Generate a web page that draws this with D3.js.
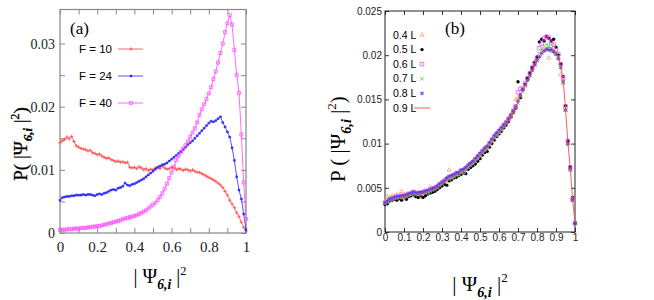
<!DOCTYPE html>
<html>
<head>
<meta charset="utf-8">
<script src="https://cdn.jsdelivr.net/npm/d3@7"></script>
<style>
  body { margin: 0; background: #fff; }
</style>
</head>
<body>
<script>
    var width = 654,
        height = 300;

    var SERIF = "'Liberation Serif', 'Times New Roman', serif",
        SANS = "'Liberation Sans', Arial, sans-serif";

    // shared x bins (step 0.0125)
    var xBins = d3.range(81).map(function(i) { return i * 0.0125; });

    // panel (a): F = 10, 24, 40
    var f10 = [
      .0143,.0146,.0148,.0152,.0149,.0153,.0145,.0138,.0136,.0134,
      .0133,.0132,.0130,.0131,.0127,.0126,.0124,.0125,.0122,.0120,
      .0118,.0119,.0116,.0115,.0113,.0114,.0112,.0113,.0111,.0112,
      .0104,.0103,.0104,.0102,.0105,.0103,.0100,.0102,.0099,.0101,
      .0100,.0103,.0104,.0102,.0106,.0103,.0101,.0102,.0104,.0103,
      .0100,.0102,.0101,.0099,.0101,.0100,.0098,.0100,.0098,.0096,
      .0096,.0094,.0092,.0090,.0088,.0086,.0084,.0082,.0079,.0076,
      .0072,.0066,.0060,.0052,.0046,.0040,.0032,.0026,.0017,.0009,
      .0002];
    var f24 = [
      .0052,.0056,.0057,.0058,.0058,.0059,.0059,.0060,.0060,.0060,
      .0061,.0060,.0061,.0061,.0060,.0059,.0061,.0062,.0061,.0063,
      .0064,.0066,.0068,.0069,.0068,.0071,.0072,.0074,.0079,.0076,
      .0075,.0077,.0078,.0080,.0082,.0084,.0086,.0089,.0092,.0095,
      .0098,.0101,.0104,.0106,.0108,.0109,.0111,.0114,.0117,.0120,
      .0123,.0126,.0129,.0132,.0136,.0140,.0143,.0146,.0150,.0154,
      .0158,.0162,.0166,.0170,.0174,.0177,.0176,.0178,.0181,.0184,
      .0175,.0168,.0160,.0152,.0135,.0115,.0089,.0068,.0054,.0030,
      .0005];
    var f40 = [
      .0005,.0005,.0005,.0006,.0006,.0006,.0007,.0007,.0007,.0008,
      .0008,.0008,.0009,.0009,.0010,.0010,.0011,.0011,.0012,.0013,
      .0014,.0015,.0016,.0017,.0018,.0019,.0020,.0022,.0023,.0024,
      .0025,.0026,.0027,.0028,.0030,.0032,.0034,.0036,.0039,.0042,
      .0045,.0048,.0052,.0057,.0063,.0070,.0078,.0087,.0096,.0105,
      .0115,.0122,.0128,.0134,.0139,.0145,.0152,.0159,.0166,.0175,
      .0187,.0196,.0204,.0212,.0221,.0231,.0244,.0256,.0270,.0285,
      .0300,.0318,.0332,.0345,.0330,.0290,.0250,.0222,.0156,.0080,
      .0022];

    // panel (b): 0.4 L ... 0.9 L
    var l04 = [
      .0035,.0040,.0039,.0041,.0040,.0042,.0041,.0046,.0041,.0043,
      .0043,.0045,.0046,.0044,.0045,.0044,.0045,.0047,.0046,.0051,
      .0049,.0050,.0052,.0054,.0056,.0058,.0060,.0070,.0063,.0064,
      .0066,.0068,.0069,.0070,.0072,.0075,.0077,.0079,.0082,.0085,
      .0088,.0091,.0092,.0097,.0100,.0104,.0108,.0111,.0114,.0117,
      .0121,.0124,.0128,.0132,.0137,.0150,.0152,.0153,.0161,.0166,
      .0173,.0179,.0185,.0191,.0196,.0200,.0204,.0205,.0206,.0197,
      .0205,.0204,.0201,.0197,.0178,.0168,.0138,.0100,.0070,.0036,
      .0010];
    var l05 = [
      .0031,.0032,.0035,.0036,.0037,.0036,.0038,.0036,.0039,.0037,
      .0040,.0041,.0042,.0040,.0039,.0041,.0039,.0041,.0043,.0044,
      .0045,.0046,.0048,.0050,.0052,.0054,.0053,.0058,.0059,.0061,
      .0062,.0064,.0065,.0067,.0066,.0071,.0073,.0075,.0077,.0080,
      .0083,.0087,.0090,.0091,.0096,.0100,.0104,.0108,.0111,.0114,
      .0118,.0121,.0125,.0130,.0135,.0140,.0170,.0152,.0161,.0167,
      .0174,.0180,.0186,.0192,.0198,.0215,.0218,.0216,.0221,.0219,
      .0216,.0218,.0209,.0200,.0190,.0176,.0143,.0103,.0074,.0039,
      .0010];
    var l06 = [
      .0033,.0035,.0037,.0038,.0039,.0040,.0040,.0041,.0040,.0042,
      .0043,.0043,.0045,.0044,.0044,.0043,.0045,.0046,.0045,.0048,
      .0049,.0050,.0051,.0054,.0056,.0058,.0060,.0062,.0062,.0064,
      .0066,.0066,.0069,.0068,.0072,.0074,.0077,.0079,.0082,.0085,
      .0088,.0091,.0094,.0096,.0100,.0104,.0108,.0111,.0114,.0117,
      .0121,.0124,.0128,.0132,.0137,.0142,.0158,.0162,.0162,.0168,
      .0174,.0180,.0186,.0191,.0197,.0208,.0213,.0219,.0221,.0220,
      .0214,.0212,.0206,.0201,.0190,.0174,.0142,.0103,.0073,.0037,
      .0010];
    var l07 = [
      .0032,.0034,.0036,.0037,.0038,.0038,.0039,.0040,.0039,.0041,
      .0041,.0042,.0043,.0043,.0042,.0043,.0044,.0044,.0045,.0046,
      .0047,.0048,.0050,.0052,.0054,.0056,.0058,.0060,.0061,.0062,
      .0064,.0065,.0067,.0068,.0070,.0073,.0075,.0077,.0080,.0083,
      .0086,.0089,.0092,.0094,.0098,.0102,.0106,.0109,.0112,.0115,
      .0119,.0122,.0126,.0130,.0135,.0140,.0146,.0153,.0159,.0165,
      .0171,.0177,.0183,.0189,.0194,.0202,.0207,.0210,.0212,.0211,
      .0208,.0210,.0204,.0198,.0186,.0170,.0138,.0099,.0071,.0036,
      .0010];
    var l08 = [
      .0033,.0035,.0037,.0038,.0039,.0040,.0040,.0041,.0041,.0042,
      .0043,.0044,.0045,.0044,.0044,.0045,.0045,.0046,.0047,.0048,
      .0049,.0050,.0052,.0054,.0056,.0058,.0061,.0063,.0064,.0065,
      .0067,.0067,.0070,.0071,.0073,.0076,.0078,.0080,.0083,.0086,
      .0089,.0092,.0095,.0097,.0101,.0105,.0109,.0112,.0115,.0118,
      .0121,.0124,.0128,.0132,.0137,.0142,.0148,.0155,.0161,.0167,
      .0172,.0177,.0183,.0189,.0194,.0198,.0202,.0205,.0207,.0206,
      .0206,.0204,.0201,.0196,.0186,.0170,.0138,.0100,.0071,.0036,
      .0010];
    var l09 = [
      .0032,.0034,.0036,.0037,.0038,.0039,.0039,.0040,.0040,.0041,
      .0042,.0043,.0044,.0043,.0043,.0044,.0044,.0045,.0046,.0047,
      .0048,.0049,.0051,.0053,.0055,.0057,.0059,.0061,.0062,.0063,
      .0065,.0066,.0068,.0069,.0071,.0074,.0076,.0078,.0081,.0084,
      .0087,.0090,.0093,.0095,.0099,.0103,.0107,.0110,.0113,.0116,
      .0120,.0123,.0127,.0131,.0136,.0141,.0147,.0154,.0160,.0166,
      .0172,.0178,.0184,.0190,.0195,.0199,.0203,.0206,.0208,.0209,
      .0208,.0206,.0203,.0199,.0188,.0172,.0140,.0101,.0072,.0037,
      .0010];

    var xTicksA = d3.range(11).map(function(i) { return i / 10; }),
        yTicksA = [0, .005, .01, .015, .02, .025, .03],
        xTicksB = d3.range(11).map(function(i) { return i / 10; }),
        yTicksB = [0, .005, .01, .015, .02, .025];

    var seriesA = [
      { name: "F = 10", values: f10, color: "#ff4545", sym: d3.symbolPlus || d3.symbolCross, size: 5, fill: false },
      { name: "F = 24", values: f24, color: "#2a2aff", sym: d3.symbolSquare, size: 4, fill: true },
      { name: "F = 40", values: f40, color: "#ff44ff", sym: d3.symbolSquare2 || d3.symbolSquare, size: 12, fill: false }
    ];

    var seriesB = [
      { name: "0.4 L", values: l04, color: "#f6a07a", sym: d3.symbolTriangle2 || d3.symbolTriangle, size: 12, fill: false },
      { name: "0.5 L", values: l05, color: "#000000", sym: d3.symbolCircle, size: 9, fill: true },
      { name: "0.6 L", values: l06, color: "#ff4cff", sym: d3.symbolSquare2 || d3.symbolSquare, size: 16, fill: false },
      { name: "0.7 L", values: l07, color: "#44e044", sym: d3.symbolTimes || d3.symbolCross, size: 11, fill: false },
      { name: "0.8 L", values: l08, color: "#3535ff", sym: d3.symbolAsterisk || d3.symbolStar, size: 11, fill: false },
      { name: "0.9 L", values: l09, color: "#ff4a4a", line: true }
    ];

    var svg = d3.select("body").append("svg")
      .attr("width", width)
      .attr("height", height);

    var fmt = function(d) { return String(+d.toFixed(3)); };

    // ---------- panel (a) ----------
    var xA = d3.scaleLinear().domain([0, 1]).range([60, 246]),
        yA = d3.scaleLinear().domain([0, 0.0354]).range([233, 9.5]);

    var gA = svg.append("g");

    gA.append("g")
      .attr("transform", "translate(0," + yA(0) + ")")
      .call(d3.axisBottom(xA).tickValues(xTicksA).tickSize(-5).tickPadding(8)
        .tickFormat(function(d) { return Math.round(d * 10) % 2 === 0 ? fmt(d) : ""; }))
      .selectAll(".tick text").attr("font-size", 15);
    gA.append("g")
      .attr("transform", "translate(0," + yA.range()[1] + ")")
      .call(d3.axisTop(xA).tickValues(xTicksA).tickSize(-5).tickFormat(""));
    gA.append("g")
      .attr("transform", "translate(" + xA(0) + ",0)")
      .call(d3.axisLeft(yA).tickValues(yTicksA).tickSize(-5).tickPadding(5)
        .tickFormat(function(d) { return Math.round(d * 1000) % 10 === 0 ? fmt(d) : ""; }))
      .selectAll(".tick text").attr("font-size", 14);
    gA.append("g")
      .attr("transform", "translate(" + xA(1) + ",0)")
      .call(d3.axisRight(yA).tickValues(yTicksA).tickSize(-5).tickFormat(""));

    gA.selectAll(".domain").remove();
    gA.selectAll(".tick line").attr("stroke", "#888");
    gA.selectAll(".tick text")
      .attr("font-family", SERIF)
      .attr("fill", "#222");

    gA.append("rect")
      .attr("x", xA(0)).attr("y", yA.range()[1])
      .attr("width", xA(1) - xA(0)).attr("height", yA(0) - yA.range()[1])
      .attr("fill", "none").attr("stroke", "#888").attr("stroke-width", 1.2);

    var lineA = d3.line()
      .x(function(d, i) { return xA(xBins[i]); })
      .y(function(d) { return yA(d); });

    seriesA.forEach(function(s) {
      gA.append("path")
        .datum(s.values)
        .attr("d", lineA)
        .attr("fill", "none")
        .attr("stroke", s.color)
        .attr("stroke-width", 0.8);
      gA.selectAll(null)
        .data(s.values)
        .enter().append("path")
        .attr("transform", function(d, i) { return "translate(" + xA(xBins[i]) + "," + yA(d) + ")"; })
        .attr("d", d3.symbol().type(s.sym).size(s.size))
        .attr("fill", s.fill ? s.color : "none")
        .attr("stroke", s.color)
        .attr("stroke-width", s.fill ? 0.4 : 0.7);
    });

    // legend (a)
    seriesA.forEach(function(s, i) {
      var ly = 49 + i * 27;
      gA.append("text")
        .attr("font-family", SANS)
        .attr("x", 112).attr("y", ly + 4)
        .attr("text-anchor", "end")
        .attr("font-size", 11.5)
        .text(s.name);
      gA.append("line")
        .attr("x1", 118).attr("x2", 143).attr("y1", ly).attr("y2", ly)
        .attr("stroke", s.color).attr("stroke-width", 0.8);
      gA.append("path")
        .attr("transform", "translate(131," + ly + ")")
        .attr("d", d3.symbol().type(s.sym).size(s.size))
        .attr("fill", s.fill ? s.color : "none")
        .attr("stroke", s.color)
        .attr("stroke-width", s.fill ? 0.4 : 0.7);
    });

    gA.append("text")
      .attr("font-family", SERIF)
      .attr("x", 70).attr("y", 34)
      .attr("font-size", 17)
      .text("(a)");

    // axis titles: |Psi_{6,i}|^2
    function psiLabel(sel, size, prefix, suffix) {
      sel.append("tspan").text(prefix + "Ψ");
      sel.append("tspan")
        .attr("dy", size * 0.28)
        .attr("font-size", size * 0.68)
        .attr("font-style", "italic")
        .attr("font-weight", "bold")
        .text("6,i");
      sel.append("tspan")
        .attr("dy", -size * 0.28)
        .text(" |");
      sel.append("tspan")
        .attr("dy", -size * 0.42)
        .attr("font-size", size * 0.62)
        .text("2");
      if (suffix) {
        sel.append("tspan")
          .attr("dy", size * 0.42)
          .text(suffix);
      }
    }

    svg.append("text")
      .attr("font-family", SERIF)
      .attr("transform", "translate(27,144) rotate(-90)")
      .attr("text-anchor", "middle")
      .attr("font-size", 19)
      .attr("stroke", "#000").attr("stroke-width", 0.3)
      .call(psiLabel, 19, "P( |", ")");

    svg.append("text")
      .attr("font-family", SERIF)
      .attr("x", 160).attr("y", 283)
      .attr("text-anchor", "middle")
      .attr("font-size", 20)
      .call(psiLabel, 20, "| ", null);

    // ---------- panel (b) ----------
    var xB = d3.scaleLinear().domain([0, 1]).range([385, 575]),
        yB = d3.scaleLinear().domain([0, 0.025]).range([232, 11]);

    var gB = svg.append("g");

    gB.append("g")
      .attr("transform", "translate(0," + yB(0) + ")")
      .call(d3.axisBottom(xB).tickValues(xTicksB).tickSize(-4).tickPadding(2).tickFormat(fmt));
    gB.append("g")
      .attr("transform", "translate(0," + yB(0.025) + ")")
      .call(d3.axisTop(xB).tickValues(xTicksB).tickSize(-4).tickFormat(""));
    gB.append("g")
      .attr("transform", "translate(" + xB(0) + ",0)")
      .call(d3.axisLeft(yB).tickValues(yTicksB).tickSize(-4).tickPadding(3).tickFormat(fmt));
    gB.append("g")
      .attr("transform", "translate(" + xB(1) + ",0)")
      .call(d3.axisRight(yB).tickValues(yTicksB).tickSize(-4).tickFormat(""));

    gB.selectAll(".domain").remove();
    gB.selectAll(".tick line").attr("stroke", "#333");
    gB.selectAll(".tick text")
      .attr("font-family", SANS)
      .attr("font-size", 10)
      .attr("fill", "#222");

    gB.append("rect")
      .attr("x", xB(0)).attr("y", yB(0.025))
      .attr("width", xB(1) - xB(0)).attr("height", yB(0) - yB(0.025))
      .attr("fill", "none").attr("stroke", "#222").attr("stroke-width", 1);

    var lineB = d3.line()
      .x(function(d, i) { return xB(xBins[i]); })
      .y(function(d) { return yB(d); });

    seriesB.forEach(function(s) {
      if (s.line) {
        gB.append("path")
          .datum(s.values)
          .attr("d", lineB)
          .attr("fill", "none")
          .attr("stroke", s.color)
          .attr("stroke-width", 0.9);
        return;
      }
      gB.selectAll(null)
        .data(s.values)
        .enter().append("path")
        .attr("transform", function(d, i) { return "translate(" + xB(xBins[i]) + "," + yB(d) + ")"; })
        .attr("d", d3.symbol().type(s.sym).size(s.size))
        .attr("fill", s.fill ? s.color : "none")
        .attr("stroke", s.color)
        .attr("stroke-width", s.fill ? 0 : 0.8);
    });

    // legend (b)
    seriesB.forEach(function(s, i) {
      var ly = 35 + i * 14.6;
      gB.append("text")
        .attr("font-family", SANS)
        .attr("x", 393).attr("y", ly + 3.5)
        .attr("font-size", 10.5)
        .text(s.name);
      if (s.line) {
        gB.append("line")
          .attr("x1", 414).attr("x2", 430).attr("y1", ly).attr("y2", ly)
          .attr("stroke", s.color).attr("stroke-width", 0.9);
      } else {
        gB.append("path")
          .attr("transform", "translate(422," + ly + ")")
          .attr("d", d3.symbol().type(s.sym).size(s.size))
          .attr("fill", s.fill ? s.color : "none")
          .attr("stroke", s.color)
          .attr("stroke-width", s.fill ? 0 : 0.8);
      }
    });

    gB.append("text")
      .attr("font-family", SERIF)
      .attr("x", 445).attr("y", 34)
      .attr("font-size", 17)
      .text("(b)");

    svg.append("text")
      .attr("font-family", SERIF)
      .attr("transform", "translate(345,139) rotate(-90)")
      .attr("text-anchor", "middle")
      .attr("font-size", 21)
      .call(psiLabel, 21, "P ( |", ")");

    svg.append("text")
      .attr("font-family", SERIF)
      .attr("x", 480).attr("y", 291)
      .attr("text-anchor", "middle")
      .attr("font-size", 21)
      .call(psiLabel, 21, "| ", null);
</script>
</body>
</html>
